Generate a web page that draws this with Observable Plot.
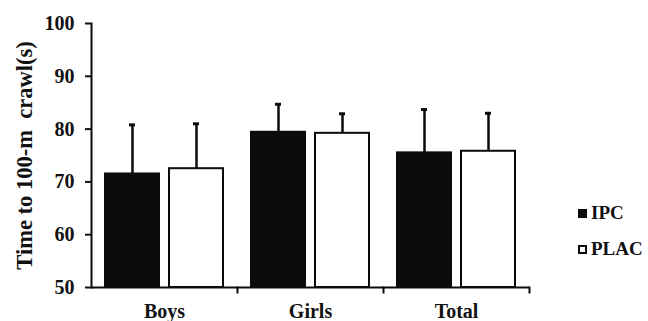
<!DOCTYPE html>
<html>
<head>
<meta charset="utf-8">
<script src="https://cdn.jsdelivr.net/npm/d3@7"></script>
<script src="https://cdn.jsdelivr.net/npm/@observablehq/plot@0.6"></script>
<style>
  html, body { margin: 0; padding: 0; background: #fff; }
  #wrap { position: relative; width: 648px; height: 321px; overflow: hidden; }
  .legend { position: absolute; left: 578px; font-family: "Liberation Serif", "Times New Roman", serif; font-weight: bold; font-size: 19px; color: #111; white-space: nowrap; display: flex; align-items: center; }
  .legend .sw { width: 9px; height: 9px; box-sizing: border-box; border: 2px solid #0b0b0b; margin-right: 4px; }
</style>
</head>
<body>
<div id="wrap"></div>
<script>
const categories = ["Boys", "Girls", "Total"];
const groups = ["IPC", "PLAC"];
const ipcMean = [71.5, 79.4, 75.5];
const ipcSD = [9.3, 5.3, 8.2];
const placMean = [72.5, 79.2, 75.8];
const placSD = [8.5, 3.7, 7.2];
const yDomain = [50, 100];
const yTicks = [50, 60, 70, 80, 90, 100];
const yTitle = "Time to 100-m  crawl(s)";
const groupColors = ["#0b0b0b", "#ffffff"];

const rows = [];
categories.forEach((c, i) => {
  rows.push({category: c, group: "IPC", mean: ipcMean[i], sd: ipcSD[i]});
  rows.push({category: c, group: "PLAC", mean: placMean[i], sd: placSD[i]});
});

const W = 648, H = 321, mL = 90, mR = 118, mT = 23, mB = 34;
const frameH = H - mT - mB;
const font = "'Liberation Serif', 'Times New Roman', serif";

const chart = Plot.plot({
  width: W, height: H,
  marginLeft: mL, marginRight: mR, marginTop: mT, marginBottom: mB,
  style: {fontFamily: font, fontWeight: "bold", color: "#111", background: "#fff", overflow: "visible"},
  fx: {domain: categories, paddingInner: 0, paddingOuter: 0, label: null},
  x: {domain: groups, paddingInner: 0.154, paddingOuter: 0.205, axis: null},
  y: {domain: yDomain, axis: null},
  color: {domain: groups, range: groupColors},
  marks: [
    Plot.barY(rows, {fx: "category", x: "group", y1: yDomain[0], y2: "mean", fill: "group", stroke: "#0b0b0b", strokeWidth: 2}),
    Plot.ruleX(rows, {fx: "category", x: "group", y1: "mean", y2: d => d.mean + d.sd, stroke: "#0b0b0b", strokeWidth: 2.5}),
    Plot.tickY(rows, {fx: "category", x: "group", y: d => d.mean + d.sd, insetLeft: 24, insetRight: 24, stroke: "#0b0b0b", strokeWidth: 3}),
    Plot.ruleY([yDomain[0]], {stroke: "#0b0b0b", strokeWidth: 2}),
    // small category separator ticks below the x axis, at the right edge of each category band
    Plot.frame({anchor: "right", insetTop: frameH, insetBottom: -5, stroke: "#0b0b0b", strokeWidth: 2}),
    Plot.frame({anchor: "left", facet: "super", stroke: "#0b0b0b", strokeWidth: 2}),
    Plot.axisY({ticks: yTicks, tickSize: 6, tickPadding: 11, fontSize: 20, strokeWidth: 2, label: null}),
    Plot.axisY({ticks: [], tickSize: 0, fontSize: 22.5, label: yTitle, labelAnchor: "center", labelOffset: 75, labelArrow: "none", dy: 5}),
    Plot.axisFx({anchor: "bottom", tickSize: 0, tickPadding: 16, fontSize: 20, label: null})
  ]
});

const wrap = document.getElementById("wrap");
wrap.appendChild(chart);

const legendItems = [
  {label: groups[0], color: groupColors[0], top: 202},
  {label: groups[1], color: groupColors[1], top: 238}
];
legendItems.forEach(it => {
  const d = document.createElement("div");
  d.className = "legend";
  d.style.top = it.top + "px";
  const sw = document.createElement("span");
  sw.className = "sw";
  sw.style.background = it.color;
  const t = document.createElement("span");
  t.textContent = it.label;
  d.appendChild(sw);
  d.appendChild(t);
  wrap.appendChild(d);
});
</script>
</body>
</html>
